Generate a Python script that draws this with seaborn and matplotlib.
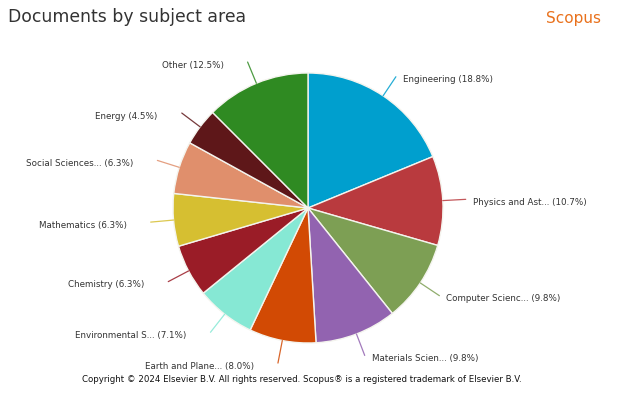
import numpy as np
import matplotlib
matplotlib.use("Agg")
import matplotlib.pyplot as plt
import seaborn as sns

categories = ["Engineering", "Physics and Ast...", "Computer Scienc...", "Materials Scien...",
              "Earth and Plane...", "Environmental S...", "Chemistry", "Mathematics",
              "Social Sciences...", "Energy", "Other"]
shares = [18.8, 10.7, 9.8, 9.8, 8.0, 7.1, 6.3, 6.3, 6.3, 4.5, 12.5]
colors = ["#009fce", "#b93a3e", "#7d9f54", "#9263b0", "#d24a04", "#86e8d4",
          "#9a1c27", "#d6bf31", "#e08f6c", "#5e1719", "#2f8a22"]

sns.set_theme(style="white")
plt.rcParams['font.family'] = ['DejaVu Sans']

W, H, DPI = 628, 394, 100
fig = plt.figure(figsize=(W / DPI, H / DPI), dpi=DPI)
ax = fig.add_axes([0, 0, 1, 1])

R_PX = 135.0
CX, CY = 308.0, 208.0

palette = sns.color_palette(colors)
wedges, _ = ax.pie(shares, colors=palette, startangle=90, counterclock=False,
                   radius=1.0, wedgeprops=dict(edgecolor="#f4f4ee", linewidth=1.0))

ax.set_xlim(-CX / R_PX, (W - CX) / R_PX)
ax.set_ylim(-(H - CY) / R_PX, CY / R_PX)
ax.set_aspect('auto')
ax.axis('off')

total = sum(shares)
cum = 0.0
for cat, val, col in zip(categories, shares, palette):
    mid_frac = (cum + val / 2) / total
    cum += val
    theta = np.deg2rad(90 - 360 * mid_frac)
    c, s = np.cos(theta), np.sin(theta)
    x0, y0 = 1.0 * c, 1.0 * s
    x1, y1 = 1.17 * c, 1.17 * s
    ax.plot([x0, x1], [y0, y1], color=col, lw=0.9, alpha=0.85, solid_capstyle='round')
    label = f"{cat} ({val:.1f}%)"
    if c >= 0:
        ax.text(x1 + 7 / R_PX, y1 - 3 / R_PX, label, ha='left', va='center',
                fontsize=6.3, color='#333333')
    else:
        ax.text(x1 - 24 / R_PX, y1 - 3 / R_PX, label, ha='right', va='center',
                fontsize=6.3, color='#333333')

fig.text(8 / W, 1 - 17 / H, "Documents by subject area", ha='left', va='center',
         fontsize=12.4, color='#333333')
fig.text(601 / W, 1 - 19 / H, "Scopus", ha='right', va='center',
         fontsize=11, color='#e9711c')
fig.text(302 / W, 1 - 380 / H,
         "Copyright © 2024 Elsevier B.V. All rights reserved. Scopus® is a registered trademark of Elsevier B.V.",
         ha='center', va='center', fontsize=6.2, color='#111111')

fig.savefig("out.png", dpi=DPI, facecolor='white')
